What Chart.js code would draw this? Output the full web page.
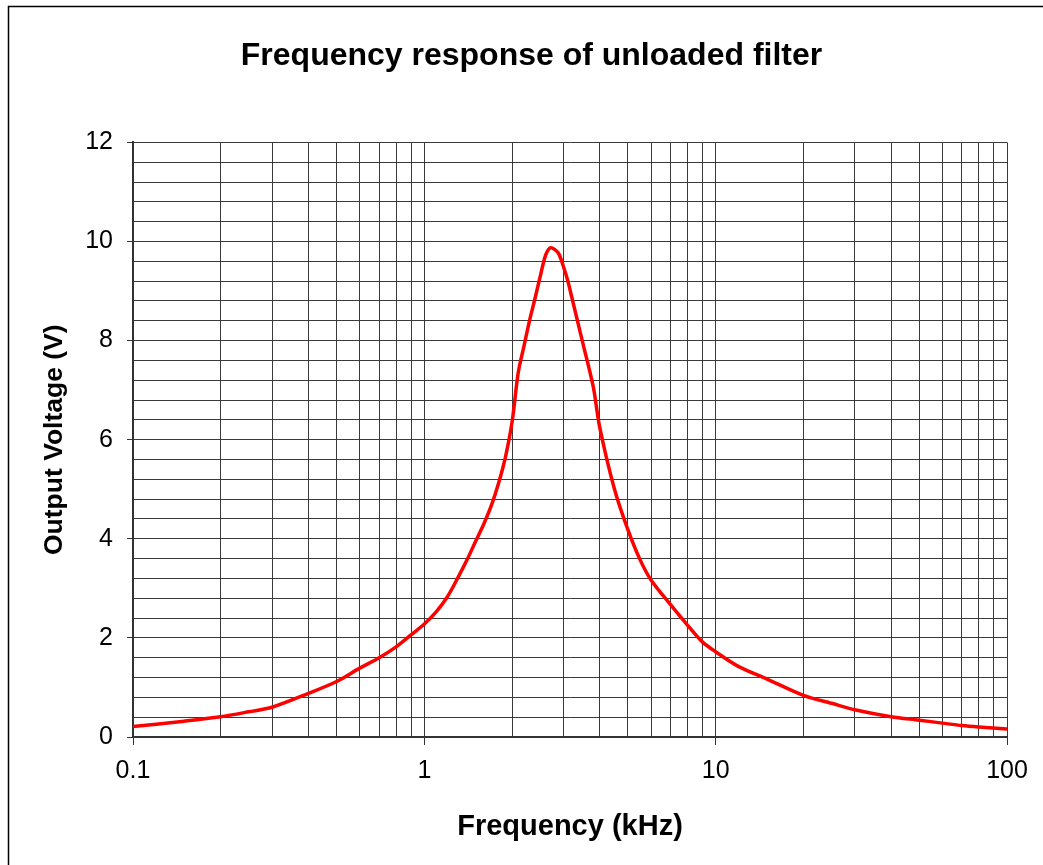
<!DOCTYPE html>
<html>
<head>
<meta charset="utf-8">
<script src="https://cdn.jsdelivr.net/npm/chart.js@4/dist/chart.umd.min.js"></script>
<style>
  html, body { margin:0; padding:0; background:#fff; }
  #wrap { position:relative; width:1043px; height:865px; }
</style>
</head>
<body>
<div id="wrap"><canvas id="c" width="1043" height="865"></canvas></div>
<script>
// frequency in kHz, output voltage in V
const freqKHz = [0.1, 0.15, 0.2, 0.25, 0.3, 0.4, 0.5, 0.6, 0.7, 0.8, 0.9, 1.0, 1.1, 1.2, 1.3, 1.4, 1.5, 1.6, 1.7, 1.8, 1.9,
                 2.0, 2.1, 2.2, 2.3, 2.4, 2.5, 2.6, 2.7, 2.8, 2.9, 3.0, 3.1, 3.2, 3.5, 3.8, 4.0, 4.5, 5.0, 5.5,
                 6, 7, 8, 9, 10, 12, 15, 20, 25, 30, 40, 50, 60, 70, 80, 100];
const voltOut = [0.21, 0.32, 0.41, 0.51, 0.6, 0.88, 1.12, 1.39, 1.6, 1.82, 2.06, 2.28, 2.53, 2.83, 3.2, 3.57, 3.95, 4.3, 4.68, 5.13, 5.66,
                 6.35, 7.35, 7.9, 8.42, 8.86, 9.3, 9.7, 9.87, 9.84, 9.74, 9.5, 9.23, 8.9, 7.95, 7.07, 6.25, 4.99, 4.18, 3.58,
                 3.17, 2.67, 2.26, 1.92, 1.72, 1.42, 1.17, 0.84, 0.68, 0.55, 0.41, 0.34, 0.28, 0.23, 0.2, 0.16];

const xDecades = [0.1, 1, 10, 100];
const xMantissa = [1, 2, 3, 4, 5, 6, 7, 8, 9];
const yMajor = [0, 2, 4, 6, 8, 10, 12];
const yMinorStep = 0.4;

const FONT = "'Liberation Sans', Arial, sans-serif";
const GRID = '#3a3a3a';

const xTickVals = [];
xDecades.slice(0, -1).forEach(d => xMantissa.forEach(m => xTickVals.push(+(d * m).toPrecision(3))));
xTickVals.push(xDecades[xDecades.length - 1]);

const isDecade = v => xDecades.some(d => Math.abs(v - d) < 1e-9);
const isYMajor = v => yMajor.some(m => Math.abs(v - m) < 1e-6);

const frame = {
  id: 'frame',
  beforeDraw(chart) {
    const ctx = chart.ctx;
    ctx.save();
    ctx.strokeStyle = '#000';
    ctx.lineWidth = 1.5;
    ctx.beginPath();
    ctx.moveTo(8.5, chart.height);
    ctx.lineTo(8.5, 6.5);
    ctx.lineTo(chart.width, 6.5);
    ctx.stroke();
    ctx.restore();
  }
};

new Chart(document.getElementById('c'), {
  type: 'line',
  data: {
    datasets: [{
      label: 'Output',
      data: freqKHz.map((f, i) => ({ x: f, y: voltOut[i] })),
      borderColor: '#ff0000',
      backgroundColor: '#ff0000',
      borderWidth: 3.5,
      pointRadius: 0,
      tension: 0.3,
      fill: false
    }]
  },
  options: {
    responsive: false,
    animation: false,
    layout: { padding: { left: 20, right: 0, top: 0, bottom: 20 } },
    plugins: {
      legend: { display: false },
      tooltip: { enabled: false },
      title: {
        display: true,
        text: 'Frequency response of unloaded filter',
        color: '#000',
        font: { family: FONT, size: 32, weight: 'bold' },
        padding: { top: 37, bottom: 67 }
      }
    },
    scales: {
      x: {
        type: 'logarithmic',
        min: 0.1, max: 100,
        afterBuildTicks: s => { s.ticks = xTickVals.map(v => ({ value: v })); },
        afterFit: s => { s.height = 865 - 737 - 20; s.paddingRight = 36; },
        border: { color: '#333', width: 2 },
        grid: {
          color: GRID, lineWidth: 1, drawTicks: true, tickLength: 8,
          tickColor: c => (c.tick && isDecade(c.tick.value)) ? '#333' : 'rgba(0,0,0,0)'
        },
        ticks: {
          autoSkip: false, maxRotation: 0, padding: 11, color: '#000',
          font: { family: FONT, size: 25 },
          callback: v => isDecade(v) ? String(v) : ''
        },
        title: {
          display: true, text: 'Frequency (kHz)', color: '#000',
          font: { family: FONT, size: 29, weight: 'bold' },
          padding: { top: 4, bottom: 1 }
        }
      },
      y: {
        min: 0, max: 12,
        ticks: {
          stepSize: yMinorStep, autoSkip: false, padding: 14, color: '#000',
          font: { family: FONT, size: 25 },
          callback: v => isYMajor(v) ? String(Math.round(v)) : ''
        },
        afterFit: s => { s.width = 133 - 20; },
        border: { color: '#333', width: 2 },
        grid: {
          color: GRID, lineWidth: 1, drawTicks: true, tickLength: 6,
          tickColor: c => (c.tick && isYMajor(c.tick.value)) ? '#333' : 'rgba(0,0,0,0)'
        },
        title: {
          display: true, text: 'Output Voltage (V)', color: '#000',
          font: { family: FONT, size: 26.5, weight: 'bold' },
          padding: { top: 19, bottom: 4 }
        }
      }
    }
  },
  plugins: [frame]
});
</script>
</body>
</html>
